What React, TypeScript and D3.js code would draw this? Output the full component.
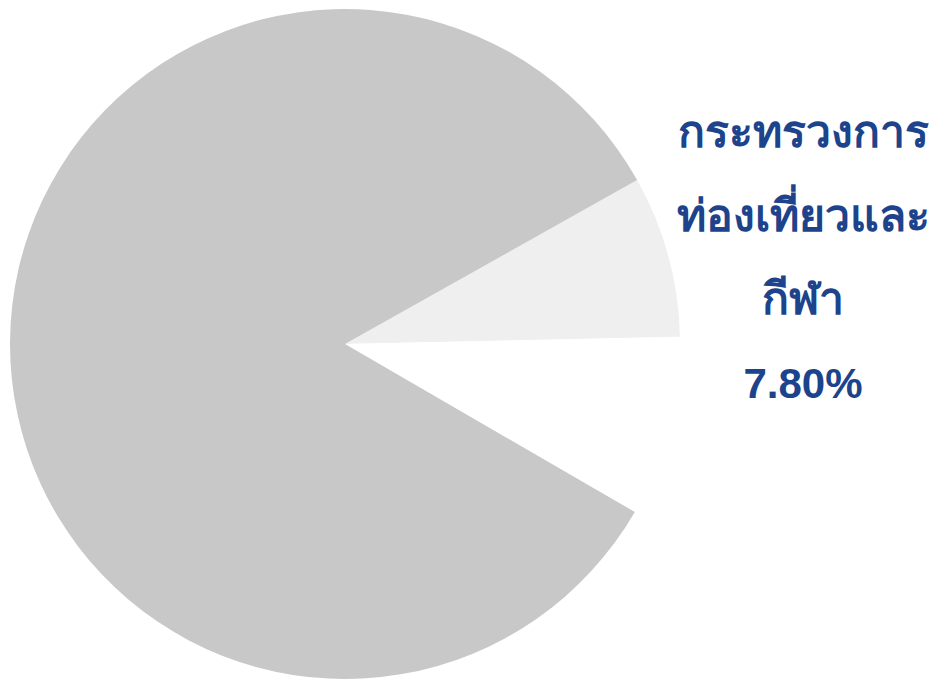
import { useMemo } from "react";
import * as d3 from "d3";

const W = 940;
const H = 679;

// slices in drawing order, clockwise from the top edge of the highlighted one
const names = ["กระทรวงการท่องเที่ยวและกีฬา", "อื่น ๆ (ว่าง)", "หน่วยงานอื่น"];
const values = [7.8, 8.7, 83.5];
const colors = ["#efefef", "#ffffff", "#c8c8c8"];

const labelLines = ["กระทรวงการ", "ท่องเที่ยวและ", "กีฬา", "7.80%"];

export default function App() {
  const cx = 345;
  const cy = 344;
  const r = 335;
  const start = (60.7 * Math.PI) / 180;

  const arcs = useMemo(() => {
    const pie = d3
      .pie<number>()
      .sort(null)
      .value((d) => d)
      .startAngle(start)
      .endAngle(start + 2 * Math.PI);
    return pie(values);
  }, []);

  const arc = d3.arc<d3.PieArcDatum<number>>().innerRadius(0).outerRadius(r);

  return (
    <svg width={W} height={H} style={{ position: "absolute", left: 0, top: 0 }}>
      <g transform={`translate(${cx},${cy})`}>
        {arcs.map((a, i) => (
          <path key={names[i]} d={arc(a) ?? ""} fill={colors[i]} />
        ))}
      </g>
      <g
        fontFamily="'Liberation Sans', Arial, 'Noto Sans', sans-serif"
        fontWeight="bold"
        fill="#1c438b"
        textAnchor="middle"
      >
        {labelLines.map((t, i) => (
          <text key={t} x={803} y={147 + i * 83.5} fontSize={i < 3 ? 44.5 : 42}>
            {t}
          </text>
        ))}
      </g>
    </svg>
  );
}
